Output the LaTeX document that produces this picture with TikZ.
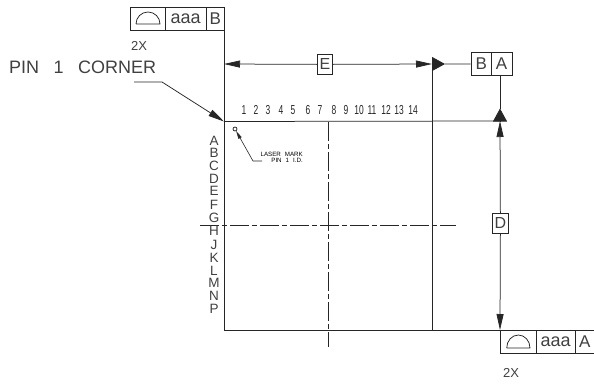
\documentclass[tikz,border=0pt]{standalone}
\usepackage{fontspec}
\setmainfont{Liberation Sans}
\usetikzlibrary{arrows.meta}
\tikzset{
  ln/.style={draw=black!85,line width=0.75pt},
  cell/.style={draw=black!85,line width=0.75pt,minimum height=#1,inner sep=0pt,anchor=north west,text=black!75,font=\fontsize{17}{17}\selectfont},
  lab/.style={font=\fontsize{18}{18}\selectfont,text=black!75,inner sep=0pt},
  big/.style={-{Triangle[length=13pt,width=14pt]}},
  small/.style={-{Triangle[length=16pt,width=7pt]}},
  cl/.style={draw=black!85,line width=0.75pt,dash pattern=on 19pt off 3pt on 5pt off 3pt},
  pinno/.style={font=\fontsize{13}{13}\selectfont,text=black!85,inner sep=0pt},
  rowl/.style={font=\fontsize{13.5}{13.5}\selectfont,text=black!75,inner sep=0pt},
  tiny/.style={font=\fontsize{6.2}{6.2}\selectfont,text=black,inner sep=0pt,align=right},
  twox/.style={font=\fontsize{13}{13}\selectfont,text=black!75,inner sep=0pt},
  aaaf/.style={font=\fontsize{18}{18}\selectfont},
}
\begin{document}
\begin{tikzpicture}[x=1pt,y=-1pt]
\useasboundingbox (0,0) rectangle (594,383);
% package outline
\coordinate (tl) at (224,121.5); \coordinate (tr) at (432,121.5);
\coordinate (bl) at (224,330); \coordinate (br) at (432,330);
\coordinate (ftop) at (224,6.5);
\draw[ln] (ftop) -- (bl);
\coordinate (far) at (594,330);
\draw[ln] (bl) -- (far);
\coordinate (rtop) at (432,64);
\draw[ln] (rtop) -- (br);
\coordinate (dtop) at (500,121);
\draw[ln] (tl) -- (dtop);
% centre lines
\coordinate (vc1) at (328,122); \coordinate (vc2) at (328,347);
\coordinate (hc1) at (200,225); \coordinate (hc2) at (456,225);
\draw[cl] (vc1) -- (vc2);
\draw[cl] (hc1) -- (hc2);
% top-left frame
\node[cell=23.5pt,minimum width=35pt] (a1) at (130,6.5) {};
\node[cell=23.5pt,minimum width=40.7pt,aaaf] (a2) at (165,6.5) {aaa};
\node[cell=23.5pt,minimum width=18.3pt] (a3) at (205.7,6.5) {B};
\draw[ln] (136,24) -- (160,24) arc[start angle=0,end angle=180,x radius=12pt,y radius=12pt];
\node[twox] (x2a) at (139,45.5) {2X};
% E dimension
\node[cell=20pt,minimum width=15pt,fill=white,font=\fontsize{16}{16}\selectfont] (E) at (317,54) {E};
\coordinate (eL) at (224,64);
\coordinate (eR) at (432,64);
\draw[ln,small] (E.west) -- (eL);
\draw[ln,small] (E.east) -- (eR);
% right frame
\node[cell=23pt,minimum width=20.3pt] (b1) at (470.7,52) {B};
\node[cell=23pt,minimum width=20.5pt] (b2) at (491,52) {A};
\coordinate (bigR) at (445,64);
\draw[ln,big] (eR) -- (bigR);
\draw[ln] (bigR) -- (b1.west);
\coordinate (dup) at (500,75);
\coordinate (bigU) at (500,108.5);
\draw[ln,big] (dtop) -- (bigU);
\draw[ln] (bigU) -- (dup);
% D dimension
\node[cell=20pt,minimum width=16pt,fill=white,font=\fontsize{16}{16}\selectfont] (D) at (492,213) {D};
\coordinate (dT) at (500,121);
\coordinate (dB) at (500,330);
\draw[ln,small] (D.north) -- (dT);
\draw[ln,small] (D.south) -- (dB);
% bottom frame
\node[cell=23pt,minimum width=35.7pt] (c1) at (500,330) {};
\node[cell=23pt,minimum width=39.3pt,aaaf] (c2) at (535.7,330) {aaa};
\node[cell=23pt,minimum width=19pt] (c3) at (575,330) {A};
\draw[ln] (506.7,348) -- (530,348) arc[start angle=0,end angle=180,x radius=11.65pt,y radius=13pt];
\node[twox] (x2b) at (511,372.5) {2X};
% pin 1 corner
\node[lab,anchor=west] (pin) at (9,67.5) {PIN\hspace{14.5pt}1\hspace{14.5pt}CORNER};
\coordinate (l1) at (134,82); \coordinate (l2) at (162,82);
\draw[ln,small] (l1) -- (l2) -- (tl);
% laser mark
\node[draw=black!85,line width=0.75pt,circle,minimum size=4pt,inner sep=0pt] (dot) at (235,129) {};
\coordinate (m1) at (262,161); \coordinate (m2) at (253,161);
\draw[ln,line width=0.6pt,-{Triangle[length=8pt,width=3.5pt]}] (m1) -- (m2) -- (dot);
\node[tiny,anchor=north east] (lm) at (303,152) {LASER\hspace{4pt}MARK\\[-0.5pt]PIN\hspace{4pt}1\hspace{4pt}I.D.};
% numbers
\foreach \t/\x in {1/244,2/256,3/268,4/281,5/293,6/308,7/320,8/334,9/346,10/359,11/372,12/386,13/399,14/413}
  \node[pinno] (n\t) at (\x,110) {\scalebox{0.65}[1]{\t}};
\foreach \t/\y in {A/141,B/153,C/166,D/179,E/191,F/205,G/218,H/231,J/245,K/258,L/271,M/283,N/296,P/309}
  \node[rowl] (r\t) at (214,\y) {\t};
\end{tikzpicture}
\end{document}
